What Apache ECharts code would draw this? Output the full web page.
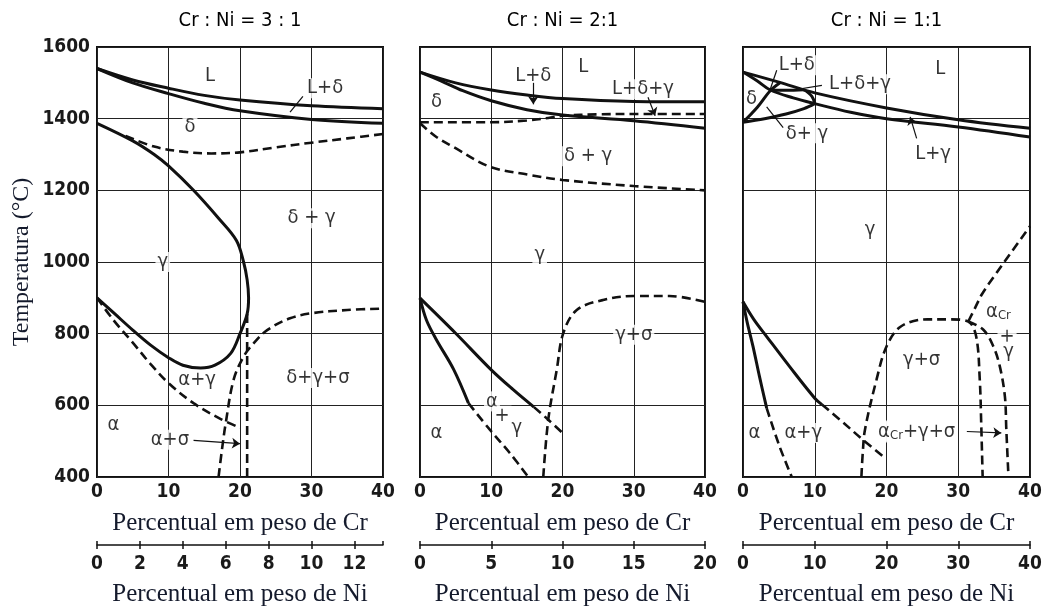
<!DOCTYPE html>
<html><head><meta charset="utf-8">
<script src="https://cdn.jsdelivr.net/npm/echarts@6/dist/echarts.min.js"></script>
<style>html,body{margin:0;padding:0;background:#fff}#c{width:1045px;height:609px}</style>
</head><body><div id="c"></div>
<script>
// ---------------- DATA ----------------
const panelTitles = ['Cr : Ni = 3 : 1', 'Cr : Ni = 2:1', 'Cr : Ni = 1:1'];
const crMin = 0, crMax = 40, crStep = 10;
const tMin = 400, tMax = 1600, tStep = 200;
const niMax = [40 / 3, 20, 40];
const niStep = [2, 5, 10];
const crName = 'Percentual em peso de Cr';
const niName = 'Percentual em peso de Ni';
const tName = 'Temperatura (°C)';

// Panel 1: Cr:Ni = 3:1   [Cr %, T °C]
const p1_liquidus = [[0,1540],[5,1508],[10,1485],[15,1465],[20,1452],[30,1436],[40,1428]];
const p1_solidus = [[0,1540],[5,1500],[10,1470],[15,1443],[20,1422],[30,1398],[40,1387]];
const p1_deltaGamma = [[4,1352],[8,1322],[12,1308],[16,1303],[20,1306],[25,1320],[30,1333],[35,1345],[40,1357]];
const p1_gammaLoop = [[0,1387],[5,1338],[8,1300],[10,1268],[13.5,1200],[17,1122],[19.5,1060],[20.5,1000],[21,950],[21.2,900],[21,855],[20,800],[18.7,745],[16.5,712],[14.5,704],[12,712],[10,733],[7.5,768],[5,810],[2.5,855],[0,900]];
const p1_alphaDashed = [[0,900],[2.3,838],[5,775],[7.5,715],[10,662],[13.5,606],[17,565],[20,537]];
const p1_sigma = [[17,400],[17.5,480],[18,550],[19.1,671],[20.5,736],[21.9,773],[23.8,810],[27,843],[30,857],[35,866],[40,870]];
const p1_sigmaVert = [[21,400],[21,858]];

// Panel 2: Cr:Ni = 2:1
const p2_liquidus = [[0,1530],[5,1500],[10,1480],[15,1466],[20,1456],[30,1448],[40,1447]];
const p2_solidus = [[0,1530],[3,1505],[6,1478],[10,1450],[15,1425],[20,1410],[30,1394],[40,1373]];
const p2_threePhase = [[0,1390],[10,1390],[15,1395],[18,1402],[20,1408],[25,1412],[30,1413],[40,1413]];
const p2_deltaGamma = [[0,1387],[2.3,1349],[4.7,1321],[9.8,1266],[15.4,1243],[20,1229],[30,1212],[40,1200]];
const p2_alphaGammaSolid = [[0,899],[5,801],[10,699],[13,645],[16,595]];
const p2_alphaGammaDash = [[16,595],[18,560],[20,523]];
const p2_alphaSolid = [[0,899],[0.9,838],[2.3,783],[4.7,701],[6.8,606]];
const p2_alphaDash = [[6.8,606],[9.8,532],[12.6,467],[15.2,400]];
const p2_sigma = [[17.3,400],[18,560],[19.2,700],[20.1,801],[22,866],[25.7,894],[30,905],[35,905],[40,889]];

// Panel 3: Cr:Ni = 1:1
const p3_liquidus = [[0,1530],[5,1502],[10,1472],[20,1430],[30,1397],[40,1373]];
const p3_solidus = [[0,1530],[2,1505],[3.8,1480],[7,1458],[10,1442],[15,1418],[20,1400],[30,1377],[40,1349]];
const p3_deltaLine = [[0,1390],[2,1432],[3.8,1478],[5.2,1501]];
const p3_threePhaseA = [[3.8,1479],[6,1479],[8.5,1481]];
const p3_threePhaseB = [[8.5,1481],[9.6,1462],[10,1442]];
const p3_gammaLow = [[0,1390],[3,1400],[6,1413],[8.5,1428],[10,1442]];
const p3_alphaGammaSolid = [[0,889],[1.5,840],[3.3,792],[6.5,708],[10,620],[11,602]];
const p3_alphaGammaDash = [[11,602],[13.5,560],[16.7,504],[19.8,453]];
const p3_alphaSolid = [[0,889],[0.6,830],[1.4,764],[2.3,680],[3.3,592]];
const p3_alphaDash = [[3.3,592],[5.1,485],[6.8,400]];
const p3_sigmaDome = [[16.5,400],[16.7,470],[17,532],[18.6,671],[20,764],[22,820],[25.7,840],[29,840],[31.4,834],[32.5,792],[33,671],[33.2,550],[33.4,400]];
const p3_sigmaRight = [[31.4,834],[33.5,811],[34.9,764],[35.8,708],[36.5,625],[36.7,532],[37,400]];
const p3_alphaCr = [[31.4,834],[32.3,870],[33.3,910],[35,960],[37.5,1030],[40,1100]];

// Phase-field labels [text, Cr, T]
const p1_labels = [['L',15.8,1521],['L+δ',31.9,1485],['δ',13,1377],['δ + γ',30,1122],['γ',9.2,1000],['α+γ',14,671],['δ+γ+σ',30.9,676],['α',2.3,546],['α+σ',10.2,504]];
const p2_labels = [['L',22.9,1544],['L+δ',15.9,1521],['δ',2.3,1447],['L+δ+γ',31.3,1482],['δ + γ',23.6,1295],['γ',16.8,1020],['γ+σ',30,797],['α',2.3,523],['α',10.1,611],['+',11.5,571],['γ',13.6,536]];
const p3_labels = [['L',27.5,1540],['L+δ',7.5,1549],['δ',1.2,1456],['L+δ+γ',16.3,1496],['δ+ γ',8.9,1359],['L+γ',26.5,1303],['γ',17.7,1089],['{a|α}{s|Cr}',35.6,862],['+',36.8,792],['γ',37,750],['γ+σ',24.9,727],['α',1.6,523],['α+γ',8.4,523],['{a|α}{s|Cr}+γ+σ',24.2,527]];
// Leader lines [[from],[to], arrowhead]
const p1_leaders = [[[28.8,1462],[27,1418],0],[[13.5,502],[20,493],1]];
const p2_leaders = [[[15.9,1500],[15.9,1440],1],[[32,1460],[33,1408],1]];
const p3_leaders = [[[4.7,1535],[3.8,1482],0],[[11,1493],[7,1480],0],[[5.6,1375],[3.3,1433],0],[[24.2,1345],[23.3,1405],1],[[31.2,527],[36,523],1]];

// ---------------- CHART ----------------
const SANS = '"DejaVu Sans Condensed", "DejaVu Sans", sans-serif';
const SERIF = '"Liberation Serif", "DejaVu Serif", serif';
const INK = '#000';
const NAVY = '#141a2c';

const panelCurves = [
  [[p1_liquidus,0],[p1_solidus,0],[p1_deltaGamma,1],[p1_gammaLoop,0],[p1_alphaDashed,1],[p1_sigma,1],[p1_sigmaVert,1]],
  [[p2_liquidus,0],[p2_solidus,0],[p2_threePhase,1],[p2_deltaGamma,1],[p2_alphaGammaSolid,0],[p2_alphaGammaDash,1],[p2_alphaSolid,0],[p2_alphaDash,1],[p2_sigma,1]],
  [[p3_liquidus,0],[p3_solidus,0],[p3_deltaLine,0],[p3_threePhaseA,0],[p3_threePhaseB,0],[p3_gammaLow,0],[p3_alphaGammaSolid,0],[p3_alphaGammaDash,1],[p3_alphaSolid,0],[p3_alphaDash,1],[p3_sigmaDome,1],[p3_sigmaRight,1],[p3_alphaCr,1]]
];
const panelLabels = [p1_labels, p2_labels, p3_labels];
const panelLeaders = [p1_leaders, p2_leaders, p3_leaders];

const gridBoxes = [{left:97,width:286},{left:420,width:285},{left:743,width:287}];
const grid = gridBoxes.map(g => ({left:g.left, width:g.width, top:47, height:430, show:true,
  borderColor:'#111', borderWidth:2, backgroundColor:'transparent', containLabel:false, outerBoundsMode:'none'}));

const plain = v => String(Math.round(v * 1000) / 1000);
const tickLabel = {fontFamily:SANS, fontSize:19, fontWeight:'bold', color:'#1a1a1a', formatter:plain};
const xAxis = [], yAxis = [], series = [];
for (let i = 0; i < 3; i++) {
  xAxis.push({gridIndex:i, type:'value', min:crMin, max:crMax, interval:crStep,
    axisLine:{show:false}, axisTick:{show:false},
    axisLabel:Object.assign({margin:6}, tickLabel),
    splitLine:{show:true, lineStyle:{color:'#222', width:1}},
    name:crName, nameLocation:'middle', nameGap:34,
    nameTextStyle:{fontFamily:SERIF, fontSize:25, color:NAVY}});
  yAxis.push({gridIndex:i, type:'value', min:tMin, max:tMax, interval:tStep,
    axisLine:{show:false}, axisTick:{show:false},
    axisLabel:Object.assign({show:i===0, margin:7}, tickLabel),
    splitLine:{show:true, lineStyle:{color:'#222', width:1}},
    name:i===0?tName:'', nameLocation:'middle', nameGap:63, nameRotate:90,
    nameTextStyle:{fontFamily:SERIF, fontSize:24, color:NAVY}});
}
for (let i = 0; i < 3; i++) {
  xAxis.push({gridIndex:i, type:'value', position:'bottom', offset:68, min:0, max:niMax[i], interval:niStep[i],
    axisLine:{show:true, lineStyle:{color:'#111', width:1.5}},
    axisTick:{show:true, length:4, lineStyle:{color:'#111', width:1.5}},
    axisLabel:Object.assign({margin:10, showMaxLabel: Number.isInteger(niMax[i])}, tickLabel),
    splitLine:{show:false},
    name:niName, nameLocation:'middle', nameGap:37,
    nameTextStyle:{fontFamily:SERIF, fontSize:25, color:NAVY}});
}
for (let i = 0; i < 3; i++) {
  xAxis.push({gridIndex:i, type:'value', position:'bottom', offset:68, min:0, max:niMax[i], interval:niStep[i],
    axisLine:{show:false}, axisTick:{show:true, inside:true, length:4, lineStyle:{color:'#111', width:1.5}},
    axisLabel:{show:false}, splitLine:{show:false}});
}

for (let i = 0; i < 3; i++) {
  panelCurves[i].forEach(([data, dashed]) => {
    series.push({type:'line', xAxisIndex:i, yAxisIndex:i, data:data, symbol:'none', showSymbol:false,
      smooth: data.length > 2 ? 0.35 : false, silent:true, animation:false, z:4,
      lineStyle:{color:'#111', width: dashed ? 2.6 : 3, type: dashed ? [9,5] : 'solid', cap:'butt'}});
  });
  series.push({type:'scatter', xAxisIndex:i, yAxisIndex:i, silent:true, animation:false, z:3,
    symbol:'circle', symbolSize:1, itemStyle:{color:'rgba(0,0,0,0)'},
    data: panelLabels[i].map(([t,x,y]) => ({name:t, value:[x,y]})),
    label:{show:true, position:'inside', formatter:'{b}', fontFamily:SANS, fontSize:20, color:INK,
      backgroundColor:'#fff', padding:[0,2],
      rich:{a:{fontFamily:SANS, fontSize:20, color:INK, backgroundColor:'#fff'},
            s:{fontFamily:SANS, fontSize:13, color:INK, verticalAlign:'bottom', padding:[9,0,0,0], backgroundColor:'#fff'}}},
    markLine:{silent:true, animation:false, symbolSize:8, label:{show:false},
      lineStyle:{color:'#111', width:1.2, type:'solid'},
      data: panelLeaders[i].map(([a,b,arrow]) => [{coord:a, symbol:'none'},{coord:b, symbol: arrow ? 'arrow' : 'none'}])}
  });
}

const graphic = panelTitles.map((t,i) => ({type:'text', x: gridBoxes[i].left + gridBoxes[i].width/2, y: 21,
  style:{text:t, align:'center', verticalAlign:'middle', font:'20px ' + SANS, fill:INK}}));

const chart = echarts.init(document.getElementById('c'), null, {renderer:'canvas'});
chart.setOption({animation:false, backgroundColor:'#fff', grid, xAxis, yAxis, series, graphic});
</script></body></html>
